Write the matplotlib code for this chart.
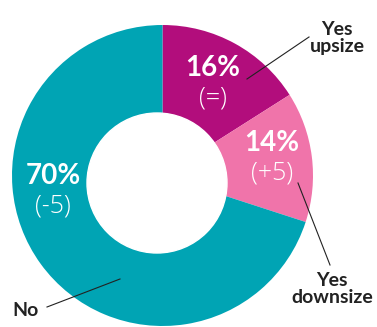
import matplotlib.pyplot as plt
from matplotlib.patches import Circle

# share of respondents planning to move
labels = ['Yes\nupsize', 'Yes\ndownsize', 'No']
shares = [16, 14, 70]
changes = ['(=)', '(+5)', '(-5)']
colors = ['#B20D7C', '#F074AA', '#00A4B4']

plt.rcParams['font.family'] = ['Lato', 'DejaVu Sans']

fig = plt.figure(figsize=(3.77, 3.27), dpi=100)
ax = fig.add_axes([0, 0, 1, 1])

ax.pie(shares, colors=colors, startangle=90, counterclock=False,
       center=(162.5, 151.5), radius=150.5,
       wedgeprops={'linewidth': 0})
# hole of the donut
ax.add_patch(Circle((157, 144), 70, color='white', zorder=3))

# pie() resets the view, so fix the limits afterwards
ax.set_xlim(0, 377)
ax.set_ylim(0, 327)
ax.set_aspect('equal')
ax.axis('off')

# value and change labels inside the ring
value_pos = [(213, 259), (272, 184), (53, 151)]
for (x, y), share, change in zip(value_pos, shares, changes):
    ax.text(x, y, f'{share}%', color='white', fontsize=20, fontweight='bold',
            ha='center', va='center', zorder=4)
    ax.text(x, y - 30, change, color='white', fontsize=18, fontweight='light',
            family=['Open Sans', 'DejaVu Sans'],
            ha='center', va='center', zorder=4)

# outer category labels with leader lines
label_pos = [(337, 289), (332, 38), (25, 17)]
leaders = [((247, 309), (248, 290)), ((298, 330), (144, 62)), ((120, 47), (48, 20))]
for (x, y), text, (lx, ly) in zip(label_pos, labels, leaders):
    ax.text(x, y, text, color='#222222', fontsize=14, fontweight='bold',
            ha='center', va='center', linespacing=1.05, zorder=4)
    ax.plot(lx, ly, color='#222222', lw=0.8, zorder=4)

fig.savefig('out.png', dpi=100)
